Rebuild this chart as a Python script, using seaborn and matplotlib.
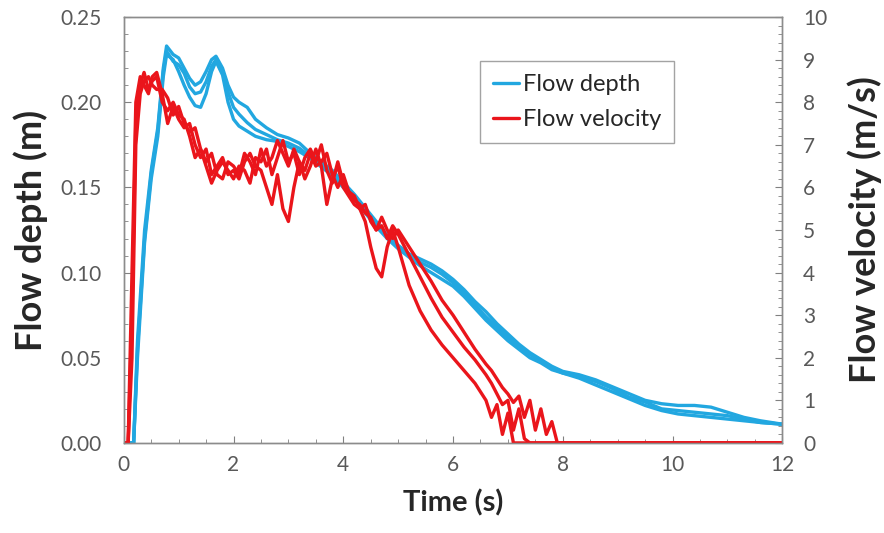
import matplotlib
matplotlib.use("Agg")
import matplotlib.pyplot as plt
from matplotlib.lines import Line2D
from matplotlib.ticker import MultipleLocator, FormatStrFormatter
import seaborn as sns

# Flow depth, three runs (m)
blue_t = [0, 0.18, 0.25, 0.38, 0.5, 0.62, 0.72, 0.78,
          0.9, 1.0, 1.1, 1.2, 1.3, 1.4, 1.5, 1.6, 1.68,
          1.8, 1.9, 2.0, 2.1, 2.25, 2.4,
          2.6, 2.8, 3.0, 3.2, 3.4, 3.6, 3.8, 4.0,
          4.2, 4.4, 4.6, 4.8, 5.0,
          5.2, 5.4, 5.6, 5.8, 6.0,
          6.2, 6.4, 6.6, 6.8, 7.0,
          7.2, 7.4, 7.6, 7.8, 8.0,
          8.3, 8.6, 8.9, 9.2, 9.5,
          9.8, 10.1, 10.4, 10.7, 11.0,
          11.3, 11.6, 12.0]

depth_run1 = [0, 0, 0.06, 0.125, 0.16, 0.185, 0.22, 0.233,
              0.228, 0.226, 0.22, 0.214, 0.21, 0.212, 0.218, 0.225, 0.227,
              0.22, 0.21, 0.203, 0.2, 0.197, 0.19,
              0.185, 0.181, 0.179, 0.176, 0.17, 0.165, 0.16, 0.153,
              0.146, 0.138, 0.13, 0.122, 0.116,
              0.111, 0.108, 0.105, 0.101, 0.096,
              0.09, 0.083, 0.077, 0.07, 0.064,
              0.058, 0.053, 0.049, 0.045, 0.042,
              0.04, 0.037, 0.033, 0.029, 0.025,
              0.023, 0.022, 0.022, 0.021, 0.018,
              0.015, 0.013, 0.011]

depth_run2 = [0, 0, 0.05, 0.118, 0.155, 0.18, 0.215, 0.228,
              0.225, 0.218, 0.21, 0.203, 0.198, 0.197, 0.205, 0.218, 0.224,
              0.216, 0.2, 0.19, 0.186, 0.183, 0.18,
              0.178, 0.177, 0.174, 0.171, 0.167, 0.162, 0.157, 0.15,
              0.143, 0.135, 0.127, 0.12, 0.114,
              0.109, 0.104, 0.1, 0.096, 0.092,
              0.086, 0.079, 0.072, 0.066, 0.06,
              0.055, 0.05, 0.047, 0.043, 0.041,
              0.038, 0.034, 0.03, 0.026, 0.022,
              0.019, 0.017, 0.016, 0.015, 0.014,
              0.013, 0.012, 0.011]

depth_run3 = [0, 0, 0.055, 0.12, 0.158, 0.183, 0.218, 0.23,
              0.224, 0.222, 0.217, 0.209, 0.205, 0.206, 0.212, 0.221, 0.225,
              0.218, 0.206, 0.197, 0.193, 0.188, 0.184,
              0.181, 0.178, 0.176, 0.173, 0.168, 0.163, 0.158, 0.151,
              0.144, 0.136, 0.128, 0.121, 0.115,
              0.11, 0.106, 0.103, 0.099, 0.094,
              0.088, 0.081, 0.074, 0.068, 0.062,
              0.056, 0.052, 0.048, 0.044, 0.041,
              0.039, 0.036, 0.032, 0.027, 0.024,
              0.02, 0.019, 0.018, 0.017, 0.016,
              0.014, 0.012, 0.011]

# Flow velocity, three runs (m/s)
red_t = [0, 0.08, 0.15, 0.22, 0.3, 0.37, 0.45, 0.52, 0.6,
         0.7, 0.8, 0.9, 1.0, 1.1, 1.2, 1.3, 1.4, 1.5, 1.6,
         1.7, 1.8, 1.9, 2.0, 2.1, 2.2, 2.3, 2.4, 2.5, 2.6,
         2.7, 2.8, 2.9, 3.0, 3.1, 3.2, 3.3, 3.4, 3.5, 3.6,
         3.7, 3.8, 3.9, 4.0, 4.1, 4.2, 4.3, 4.4, 4.5, 4.6,
         4.7, 4.8, 4.9, 5.0,
         5.2, 5.4, 5.6, 5.8, 6.0, 6.2, 6.4, 6.6,
         6.7, 6.8, 6.9, 7.0, 7.1, 7.2, 7.3, 7.4, 7.5, 7.6, 7.7, 7.8, 7.9, 8.0,
         12.0]

vel_run1 = [0, 0, 4.0, 8.0, 8.6, 8.4, 8.2, 8.6, 8.7,
            8.2, 7.5, 7.9, 7.6, 7.4, 7.5, 7.0, 6.7, 6.9, 6.3,
            6.5, 6.7, 6.3, 6.4, 6.2, 6.6, 6.8, 6.5, 6.4, 6.0,
            5.6, 6.3, 5.5, 5.2, 6.0, 6.6, 6.2, 6.5, 6.9, 6.5,
            5.6, 6.2, 6.5, 6.0, 5.8, 5.6, 5.5, 5.2, 4.6, 4.1,
            3.9, 4.6, 5.0, 4.6,
            3.7, 3.1, 2.65, 2.3, 2.0, 1.7, 1.4, 1.0,
            0.6, 0.9, 0.2, 0.7, 0, 0, 0, 0, 0, 0, 0, 0, 0, 0,
            0]

vel_run2 = [0, 0, 3.0, 7.6, 8.4, 8.7, 8.3, 8.5, 8.6,
            8.0, 7.8, 8.0, 7.7, 7.6, 7.2, 6.7, 6.9, 6.5, 6.1,
            6.4, 6.6, 6.4, 6.2, 6.5, 6.4, 6.1, 6.7, 6.6, 6.9,
            6.3, 6.7, 7.1, 6.6, 6.8, 6.3, 6.7, 6.9, 6.6, 7.0,
            6.4, 6.1, 6.6, 6.1, 5.9, 5.7, 5.6, 5.4, 5.3, 5.0,
            5.1, 4.8, 5.1, 4.9,
            4.4, 3.9, 3.4, 2.95, 2.6, 2.25, 1.95, 1.6,
            1.4, 1.15, 0.9, 1.0, 0.3, 0.8, 0.1, 0, 0, 0, 0, 0, 0, 0,
            0]

vel_run3 = [0, 0, 2.0, 7.0, 8.2, 8.5, 8.6, 8.4, 8.3,
            8.3, 8.1, 7.7, 7.9, 7.5, 7.3, 7.4, 6.9, 6.6, 6.8,
            6.3, 6.2, 6.6, 6.5, 6.3, 6.8, 6.6, 6.3, 6.9, 6.5,
            6.7, 7.1, 6.8, 6.5, 6.9, 6.6, 6.4, 6.8, 6.5, 6.6,
            6.8, 6.3, 6.0, 6.3, 5.9, 5.8, 5.5, 5.6, 5.2, 5.0,
            5.3, 5.0, 4.8, 5.0,
            4.6, 4.2, 3.8, 3.35, 3.0, 2.6, 2.2, 1.85,
            1.7, 1.5, 1.3, 1.15, 0.95, 1.1, 0.6, 1.0, 0.3, 0.8, 0.2, 0.5, 0, 0,
            0]

depth_runs = [depth_run1, depth_run2, depth_run3]
vel_runs = [vel_run1, vel_run2, vel_run3]

blue = "#22A7E0"
red = "#EA151B"
grey = "#595959"

sns.set_style("ticks")
plt.rcParams["font.family"] = ["Lato", "DejaVu Sans"]

fig = plt.figure(figsize=(8.84, 5.33), dpi=100)
ax = fig.add_axes([0.140, 0.169, 0.745, 0.799])
ax2 = ax.twinx()

for d in depth_runs:
    sns.lineplot(x=blue_t, y=d, ax=ax, color=blue, linewidth=2.4)
for v in vel_runs:
    sns.lineplot(x=red_t, y=v, ax=ax2, color=red, linewidth=2.4)

ax.set_xlim(0, 12)
ax.set_ylim(0, 0.25)
ax2.set_ylim(0, 10)

ax.xaxis.set_major_locator(MultipleLocator(2))
ax.xaxis.set_minor_locator(MultipleLocator(0.5))
ax.yaxis.set_major_locator(MultipleLocator(0.05))
ax.yaxis.set_minor_locator(MultipleLocator(0.01))
ax.yaxis.set_major_formatter(FormatStrFormatter("%.2f"))
ax2.yaxis.set_major_locator(MultipleLocator(1))
ax2.yaxis.set_minor_locator(MultipleLocator(0.2))

for a in (ax, ax2):
    a.tick_params(which="both", direction="in", colors="#808080",
                  labelcolor=grey, labelsize=15)
    a.tick_params(which="major", length=5)
    a.tick_params(which="minor", length=3)
    for s in a.spines.values():
        s.set_color("#8c8c8c")
        s.set_linewidth(1.0)
ax.tick_params(axis="x", pad=9)
ax.tick_params(axis="y", pad=16)
ax2.tick_params(axis="y", pad=15)

ax.set_xlabel("Time (s)", fontsize=21, fontweight="bold", color="#262626")
ax.set_ylabel("Flow depth (m)", fontsize=26, fontweight="bold", color="#262626")
ax2.set_ylabel("Flow velocity (m/s)", fontsize=26, fontweight="bold", color="#262626")
ax.xaxis.set_label_coords(0.5, -0.11)
ax.yaxis.set_label_coords(-0.115, 0.5)
ax2.yaxis.set_label_coords(1.098, 0.5)

handles = [Line2D([], [], color=blue, linewidth=2.4),
           Line2D([], [], color=red, linewidth=2.4)]
leg = ax2.legend(handles, ["Flow depth", "Flow velocity"], loc="upper left",
                 bbox_to_anchor=(0.541, 0.897), fontsize=17, frameon=True,
                 fancybox=False, edgecolor="#8c8c8c", handlelength=1.1,
                 handletextpad=0.15, borderpad=0.55, labelspacing=0.6,
                 borderaxespad=0)
leg.get_frame().set_linewidth(1.0)

fig.savefig("out.png", dpi=100)
